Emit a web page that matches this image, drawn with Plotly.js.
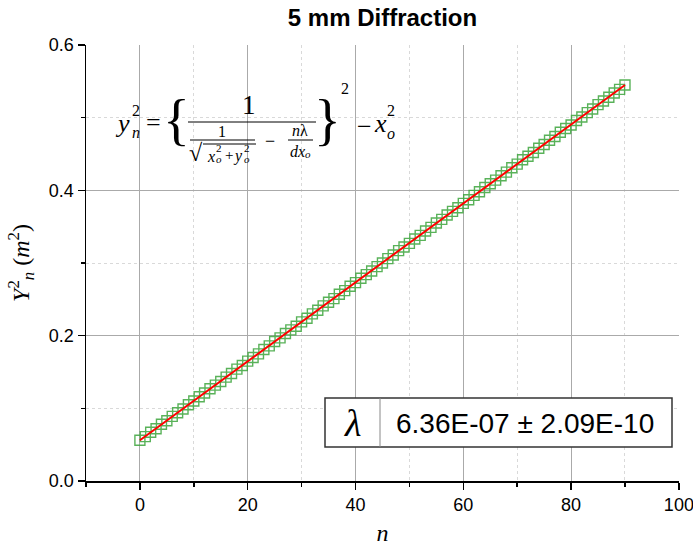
<!DOCTYPE html>
<html>
<head>
<meta charset="utf-8">
<script src="https://cdn.plot.ly/plotly-3.0.1.min.js"></script>
<style>html,body{margin:0;padding:0;background:#fff;}#chart{width:693px;height:546px;}</style>
</head>
<body>
<div id="chart"></div>
<script>
// Data
const orderN = [0,1,2,3,4,5,6,7,8,9,10,11,12,13,14,15,16,17,18,19,20,21,22,23,24,25,26,27,28,29,30,31,32,33,34,35,36,37,38,39,40,41,42,43,44,45,46,47,48,49,50,51,52,53,54,55,56,57,58,59,60,61,62,63,64,65,66,67,68,69,70,71,72,73,74,75,76,77,78,79,80,81,82,83,84,85,86,87,88,89,90];
const yn2 = [0.056,0.061,0.067,0.072,0.078,0.083,0.089,0.094,0.099,0.105,
  0.110,0.116,0.121,0.127,0.132,0.137,0.143,0.148,0.154,0.159,
  0.165,0.170,0.175,0.181,0.186,0.192,0.197,0.203,0.208,0.213,
  0.219,0.224,0.230,0.235,0.241,0.246,0.251,0.257,0.262,0.268,
  0.273,0.279,0.284,0.289,0.295,0.300,0.306,0.311,0.317,0.322,
  0.327,0.333,0.338,0.344,0.349,0.355,0.360,0.366,0.371,0.376,
  0.382,0.387,0.393,0.398,0.404,0.409,0.414,0.420,0.425,0.431,
  0.436,0.442,0.447,0.452,0.458,0.463,0.469,0.474,0.480,0.485,
  0.490,0.496,0.501,0.507,0.512,0.518,0.523,0.528,0.534,0.539,0.545];
const fitN = [0, 90];
const fitY = [0.056, 0.545];
const xTicks = [0, 20, 40, 60, 80, 100];
const yTicks = [0.0, 0.2, 0.4, 0.6];
const chartTitle = "5 mm Diffraction";
const resultText = "6.36E-07 ± 2.09E-10";

// plot area in pixels
const L = 86, R = 679, T = 45, B = 481;
const W = 693, H = 546;
function px(x){ return (x - L) / (R - L); }
function py(y){ return (B - y) / (B - T); }

const serif = "Liberation Serif, DejaVu Serif, serif";
const sans = "Liberation Sans, Arial, sans-serif";

function ann(text, x, y, size, extra){
  return Object.assign({text: text, x: px(x), y: py(y), xref: 'paper', yref: 'paper',
    showarrow: false, xanchor: 'center', yanchor: 'middle',
    font: {family: serif, size: size, color: '#000'}}, extra || {});
}
function hline(x0, x1, y, w){
  return {type: 'line', xref: 'paper', yref: 'paper', x0: px(x0), x1: px(x1), y0: py(y), y1: py(y),
    line: {color: '#000', width: w || 1}};
}

const traces = [
  {x: orderN, y: yn2, type: 'scatter', mode: 'markers',
   marker: {symbol: 'square-open', size: 10, color: '#3da53d', line: {width: 1.4}}, opacity: 0.85},
  {x: fitN, y: fitY, type: 'scatter', mode: 'lines', line: {color: '#ff0000', width: 2}}
];

const annotations = [
  // equation
  ann('<i>y</i>', 122, 124, 26),
  ann('2', 136, 110, 16),
  ann('<i>n</i>', 136, 132, 16),
  ann('=', 153, 122, 26),
  ann('{', 176, 120, 56),
  ann('1', 249, 105, 27),
  ann('1', 222, 131, 16),
  ann('√', 196, 153, 24),
  ann('<i>x</i>', 211, 156, 16),
  ann('2', 219, 148, 11),
  ann('<i>o</i>', 219, 159, 11),
  ann('+', 229, 155, 15),
  ann('<i>y</i>', 238, 156, 16),
  ann('2', 247, 148, 11),
  ann('<i>o</i>', 247, 159, 11),
  ann('−', 270, 141, 18),
  ann('<i>n</i>λ', 300, 130, 16),
  ann('<i>dx</i>', 297, 151, 16),
  ann('<i>o</i>', 308, 154, 11),
  ann('}', 327, 120, 56),
  ann('2', 345, 89, 16),
  ann('−', 364, 126, 26),
  ann('<i>x</i>', 380, 124, 26),
  ann('2', 391, 111, 16),
  ann('<i>o</i>', 391, 133, 16),
  // result box
  ann('<i>λ</i>', 352, 423, 38),
  ann(resultText, 525, 423, 28, {font: {family: sans, size: 28, color: '#000'}})
];

const shapes = [
  hline(188, 316, 122, 1),
  hline(190, 255, 140, 1),
  hline(203, 256, 144, 1),
  hline(288, 313, 140, 1),
  {type: 'rect', xref: 'paper', yref: 'paper', x0: px(325), x1: px(672), y0: py(447), y1: py(398),
   line: {color: '#333', width: 1.5}, fillcolor: '#fff', layer: 'above'},
  {type: 'line', xref: 'paper', yref: 'paper', x0: px(380), x1: px(380), y0: py(447), y1: py(398),
   line: {color: '#888', width: 1}}
];

const axisCommon = {
  showline: true, linecolor: '#000', linewidth: 1.5, mirror: false,
  ticks: 'outside', ticklen: 7, tickwidth: 1.5, tickcolor: '#000',
  showgrid: true, gridcolor: '#aaaaaa', gridwidth: 1, zeroline: false,
  ticklabeloverflow: 'allow',
  tickfont: {family: sans, size: 18, color: '#000'}
};

const layout = {
  width: W, height: H,
  margin: {l: L, r: W - R, t: T, b: H - B},
  paper_bgcolor: '#fff', plot_bgcolor: '#fff',
  showlegend: false,
  title: {text: '<b>' + chartTitle + '</b>', x: 0.5 * (L + R) / W, xanchor: 'center', y: 1 - 18 / H, yanchor: 'middle',
          font: {family: sans, size: 24, color: '#000'}},
  xaxis: Object.assign({}, axisCommon, {
    range: [-10, 100.02], tickvals: xTicks,
    minor: {dtick: 10, tick0: 0, ticks: 'outside', ticklen: 4, tickcolor: '#000', tickwidth: 1.5,
            showgrid: true, gridcolor: '#d9d9d9', griddash: 'dot', gridwidth: 1},
    title: {text: '<i>n</i>', font: {family: serif, size: 24, color: '#000'}, standoff: 16}
  }),
  yaxis: Object.assign({}, axisCommon, {
    range: [0, 0.6], tickvals: yTicks, tickformat: '.1f',
    minor: {dtick: 0.1, tick0: 0, ticks: 'outside', ticklen: 4, tickcolor: '#000', tickwidth: 1.5,
            showgrid: true, gridcolor: '#d9d9d9', griddash: 'dot', gridwidth: 1},
    title: {text: '<i>Y</i><sup>2</sup><sub><i>n</i></sub> (<i>m</i><sup>2</sup>)', font: {family: serif, size: 24, color: '#000'}, standoff: 12}
  }),
  annotations: annotations,
  shapes: shapes
};

Plotly.newPlot('chart', traces, layout, {displayModeBar: false, staticPlot: true});
</script>
</body>
</html>
